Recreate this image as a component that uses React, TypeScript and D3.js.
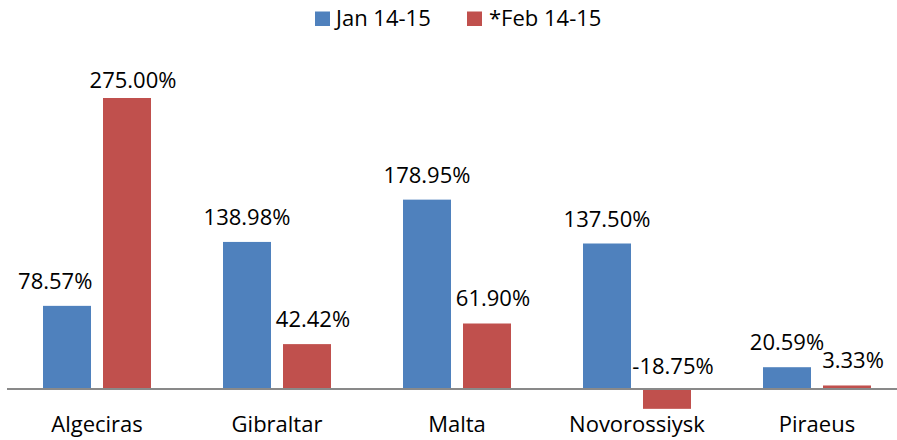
import React from "react";
import * as d3 from "d3";

const categories = ["Algeciras", "Gibraltar", "Malta", "Novorossiysk", "Piraeus"];
const seriesNames = ["Jan 14-15", "*Feb 14-15"];
const jan = [78.57, 138.98, 178.95, 137.5, 20.59];
const feb = [275.0, 42.42, 61.9, -18.75, 3.33];
const colors = ["#4F81BD", "#C0504D"];

const W = 897;
const H = 440;
const FONT = "'Open Sans', sans-serif";

export default function App() {
  const x = d3.scaleBand<string>().domain(categories).range([7, 907]).paddingInner(0).paddingOuter(0);
  const xs = d3.scaleBand<string>().domain(seriesNames).range([0, x.bandwidth()]).paddingInner(0.2).paddingOuter(0.6);
  const maxV = d3.max([...jan, ...feb]) as number;
  const y = d3.scaleLinear().domain([0, maxV]).range([389, 98]);
  const series = [jan, feb];
  const fmt = (v: number) => v.toFixed(2) + "%";

  return (
    <svg width={W} height={H} style={{ position: "absolute", left: 0, top: 0, background: "#fff" }} fontFamily={FONT}>
      {/* legend */}
      <g>
        <rect x={315} y={11.5} width={15} height={14.5} fill={colors[0]} />
        <text x={336} y={26} fontSize={22} fill="#000">{seriesNames[0]}</text>
        <rect x={467} y={11.5} width={15} height={14.5} fill={colors[1]} />
        <text x={489} y={26} fontSize={22} fill="#000">{seriesNames[1]}</text>
      </g>
      {/* bars */}
      {series.map((vals, si) => (
        <g key={si}>
          {categories.map((c, ci) => {
            const v = vals[ci];
            const bx = (x(c) as number) + (xs(seriesNames[si]) as number);
            const y0 = y(0);
            const yv = y(v);
            return (
              <rect key={c} x={bx} y={Math.min(y0, yv)} width={xs.bandwidth()} height={Math.abs(y0 - yv)} fill={colors[si]} />
            );
          })}
        </g>
      ))}
      {/* axis line */}
      <line x1={7} x2={W} y1={y(0)} y2={y(0)} stroke="#898989" strokeWidth={2} />
      {/* value labels */}
      {series.map((vals, si) => (
        <g key={"l" + si}>
          {categories.map((c, ci) => {
            const v = vals[ci];
            const label = fmt(v);
            let cx = (x(c) as number) + (xs(seriesNames[si]) as number) + xs.bandwidth() / 2 + (si === 1 ? 6 : 0);
            const by = Math.max(88, y(Math.max(v, 0)) - (v < 0 ? 15 : 17));
            if (si === 0) {
              const other = series[1][ci];
              const otherTop = y(Math.max(other, 0));
              const otherX = (x(c) as number) + (xs(seriesNames[1]) as number);
              const estW = label.length * 12.6;
              if (otherTop < by && cx + estW / 2 > otherX - 10) {
                cx = otherX - 10 - estW / 2;
              }
            }
            return (
              <text key={c} x={cx} y={by} fontSize={22} textAnchor="middle" fill="#000">{label}</text>
            );
          })}
        </g>
      ))}
      {/* category labels */}
      {categories.map((c) => (
        <text key={c} x={(x(c) as number) + x.bandwidth() / 2} y={432} fontSize={22} textAnchor="middle" fill="#000">{c}</text>
      ))}
    </svg>
  );
}
